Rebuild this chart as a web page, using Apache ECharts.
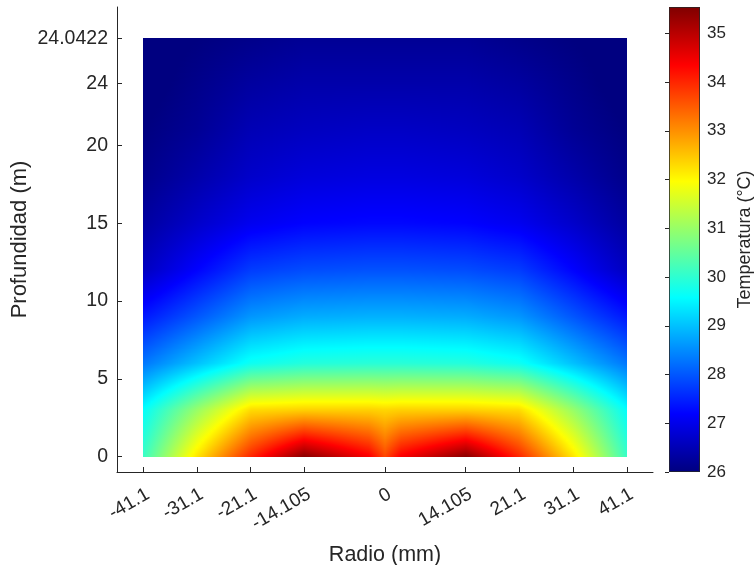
<!DOCTYPE html>
<html><head><meta charset="utf-8">
<script src="https://cdn.jsdelivr.net/npm/echarts@6/dist/echarts.min.js"></script>
<style>html,body{margin:0;padding:0;background:#fff}#c{width:754px;height:565px}</style>
</head><body><div id="c"></div>
<script>
// Tick positions (plot coordinates) and their labels
const xTickPos = [0, 1, 2, 3, 4.5, 6, 7, 8, 9];
const xTickLabels = ['-41.1', '-31.1', '-21.1', '-14.105', '0', '14.105', '21.1', '31.1', '41.1'];
const yTickPos = [0, 5, 10, 15, 20, 24, 26.89];
const yTickLabels = ['0', '5', '10', '15', '20', '24', '24.0422'];
const cbTicks = [26, 27, 28, 29, 30, 31, 32, 33, 34, 35];
const cbMin = 26, cbMax = 35.54;

// Grid nodes of the temperature field (plot coordinates)
const nodeX = [0, 1, 2, 3, 4.2, 4.5, 4.8, 6, 7, 8, 9];
const nodeY = [0, 3, 6, 9, 12, 15, 18, 21, 24, 26.89];
// Temperatures (°C), one row per depth node, bottom to top
const tempRow0 = [30.1, 32.2, 34.0, 35.45, 34.4, 33.7, 34.4, 35.45, 34.0, 32.2, 30.1];
const tempRow1 = [29.6, 31.0, 32.3, 32.4, 32.4, 32.35, 32.4, 32.4, 32.3, 31.0, 29.6];
const tempRow2 = [28.3, 29.0, 29.7, 29.9, 29.95, 29.95, 29.95, 29.9, 29.7, 29.0, 28.3];
const tempRow3 = [27.4, 28.0, 28.6, 28.8, 28.85, 28.85, 28.85, 28.8, 28.6, 28.0, 27.4];
const tempRow4 = [26.6, 27.2, 27.75, 27.9, 27.95, 27.95, 27.95, 27.9, 27.75, 27.2, 26.6];
const tempRow5 = [26.3, 26.7, 27.05, 27.2, 27.25, 27.25, 27.25, 27.2, 27.05, 26.7, 26.3];
const tempRow6 = [26.1, 26.4, 26.7, 26.85, 26.9, 26.9, 26.9, 26.85, 26.7, 26.4, 26.1];
const tempRow7 = [26.0, 26.2, 26.5, 26.6, 26.65, 26.65, 26.65, 26.6, 26.5, 26.2, 26.0];
const tempRow8 = [25.9, 26.1, 26.3, 26.4, 26.4, 26.4, 26.4, 26.4, 26.3, 26.1, 25.9];
const tempRow9 = [25.9, 26.0, 26.1, 26.2, 26.2, 26.2, 26.2, 26.2, 26.1, 26.0, 25.9];
const temps = [tempRow0, tempRow1, tempRow2, tempRow3, tempRow4, tempRow5, tempRow6, tempRow7, tempRow8, tempRow9];

function clamp(v) { return Math.max(0, Math.min(1, v)); }
function jet(t) {
  t = clamp(t);
  const r = clamp(1.5 - Math.abs(4 * t - 3));
  const g = clamp(1.5 - Math.abs(4 * t - 2));
  const b = clamp(1.5 - Math.abs(4 * t - 1));
  return 'rgb(' + Math.round(r * 255) + ',' + Math.round(g * 255) + ',' + Math.round(b * 255) + ')';
}
function tempColor(v) { return jet((v - cbMin) / (cbMax - cbMin)); }

const cells = [];
for (let j = 0; j < nodeY.length - 1; j++) {
  for (let i = 0; i < nodeX.length - 1; i++) cells.push([i, j]);
}

// Interpolated shading of one cell, drawn in whole-pixel rows
function renderCell(params, api) {
  const i = api.value(0), j = api.value(1);
  const pBL = api.coord([nodeX[i], nodeY[j]]);
  const pTR = api.coord([nodeX[i + 1], nodeY[j + 1]]);
  const x0 = pBL[0], x1 = pTR[0], yb = pBL[1], yt = pTR[1];
  const X0 = Math.round(x0), X1 = Math.round(x1), Yt = Math.round(yt), Yb = Math.round(yb);
  const v00 = temps[j][i], v10 = temps[j][i + 1], v01 = temps[j + 1][i], v11 = temps[j + 1][i + 1];
  const h = yb - yt;
  const nStops = Math.max(2, Math.ceil((X1 - X0) / 3) + 1);
  const children = [];
  for (let py = Yt; py < Yb; py++) {
    const fy = Math.max(0, Math.min(1, (yb - (py + 0.5)) / h));
    const vl = v00 + (v01 - v00) * fy;
    const vr = v10 + (v11 - v10) * fy;
    const stops = [];
    for (let k = 0; k < nStops; k++) {
      const fx = k / (nStops - 1);
      stops.push({ offset: fx, color: tempColor(vl + (vr - vl) * fx) });
    }
    children.push({
      type: 'rect',
      shape: { x: X0, y: py, width: X1 - X0, height: 1 },
      style: { fill: new echarts.graphic.LinearGradient(0, 0, 1, 0, stops) }
    });
  }
  return { type: 'group', children: children };
}

function renderColorbar(params, api) {
  const pB = api.coord([0, cbMin]);
  const pT = api.coord([1, cbMax]);
  const stops = [];
  const n = 64;
  for (let k = 0; k <= n; k++) stops.push({ offset: k / n, color: jet(1 - k / n) });
  const x = Math.round(pB[0]), y = Math.round(pT[1]);
  const w = Math.round(pT[0]) - x, hh = Math.round(pB[1]) - y;
  return {
    type: 'group',
    children: [
      { type: 'rect', shape: { x: x, y: y, width: w, height: hh },
        style: { fill: new echarts.graphic.LinearGradient(0, 0, 0, 1, stops) } },
      { type: 'rect', shape: { x: x + 0.5, y: y + 0.5, width: w - 1, height: hh - 1 },
        style: { fill: 'none', stroke: '#262626', lineWidth: 0.8 } }
    ]
  };
}

function lookup(pos, labels, v) {
  let best = 0;
  for (let k = 0; k < pos.length; k++) if (Math.abs(pos[k] - v) < Math.abs(pos[best] - v)) best = k;
  return labels[best];
}

// label anchors sit a little right of their ticks, as in the rotated MATLAB labels
const xLabelPos = xTickPos.map(function (p) { return p + 0.09; });

const FONT = '"Liberation Sans", Arial, Helvetica, sans-serif';
const TXT = '#262626';

const chart = echarts.init(document.getElementById('c'), null, { renderer: 'canvas' });
chart.setOption({
  animation: false,
  backgroundColor: '#ffffff',
  grid: [
    { left: 117, top: 7, width: 536, height: 465, outerBoundsMode: 'none', containLabel: false },
    { left: 669, top: 7, width: 31, height: 465, outerBoundsMode: 'none', containLabel: false }
  ],
  xAxis: [
    {
      gridIndex: 0, type: 'value', min: -0.485, max: 9.485,
      name: 'Radio (mm)', nameLocation: 'middle', nameGap: 72, nameMoveOverlap: false,
      nameTextStyle: { fontFamily: FONT, fontSize: 21.5, color: TXT },
      axisLine: { show: true, onZero: false, lineStyle: { color: TXT, width: 1 } },
      axisTick: { show: true, inside: true, length: 5, customValues: xTickPos, lineStyle: { color: TXT } },
      axisLabel: {
        customValues: xLabelPos, rotate: 30, margin: 21,
        fontFamily: FONT, fontSize: 19, color: TXT,
        formatter: function (v) { return lookup(xLabelPos, xTickLabels, v); }
      },
      splitLine: { show: false }
    },
    { gridIndex: 1, type: 'value', min: 0, max: 1, show: false }
  ],
  yAxis: [
    {
      gridIndex: 0, type: 'value', min: -0.983, max: 28.9,
      name: 'Profundidad (m)', nameLocation: 'middle', nameGap: 86, nameRotate: 90, nameMoveOverlap: false,
      nameTextStyle: { fontFamily: FONT, fontSize: 22, color: TXT },
      axisLine: { show: true, onZero: false, lineStyle: { color: TXT, width: 1 } },
      axisTick: { show: true, inside: true, length: 5, customValues: yTickPos, lineStyle: { color: TXT } },
      axisLabel: {
        customValues: yTickPos, margin: 9,
        fontFamily: FONT, fontSize: 19.5, color: TXT,
        formatter: function (v) { return lookup(yTickPos, yTickLabels, v); }
      },
      splitLine: { show: false }
    },
    {
      gridIndex: 1, type: 'value', min: cbMin, max: cbMax, position: 'right',
      name: 'Temperatura (°C)', nameLocation: 'middle', nameGap: 36, nameRotate: 90,
      nameTextStyle: { fontFamily: FONT, fontSize: 18, color: TXT },
      axisLine: { show: false },
      axisTick: { show: true, inside: true, length: 4, customValues: cbTicks, lineStyle: { color: TXT } },
      axisLabel: {
        customValues: cbTicks, margin: 7,
        fontFamily: FONT, fontSize: 17, color: TXT,
        formatter: function (v) { return String(Math.round(v)); }
      },
      splitLine: { show: false }
    }
  ],
  series: [
    {
      type: 'custom', xAxisIndex: 0, yAxisIndex: 0, silent: true,
      renderItem: renderCell, data: cells, clip: true
    },
    {
      type: 'custom', xAxisIndex: 1, yAxisIndex: 1, silent: true,
      renderItem: renderColorbar, data: [[0]]
    }
  ]
});
</script>
</body></html>
